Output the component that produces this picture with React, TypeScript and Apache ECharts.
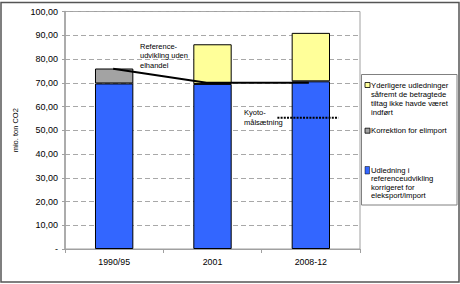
import React, { useEffect, useRef } from "react";
import * as echarts from "echarts";

const categories = ["1990/95", "2001", "2008-12"];
const udledning = [69.7, 69.5, 70.6];
const korrektion: (number | null)[] = [6.3, null, null];
const yderligere: (number | null)[] = [null, 16.7, 20.4];
// reference line (x in category units, 0..3) and Kyoto target
const refX = [0.49, 1.44, 2.48];
const refY = [75.9, 70.0, 70.0];
const kyotoX = [2.16, 2.78];
const kyotoY = [55.3, 55.3];

const nameU = "Udledning i referenceudvikling korrigeret for eleksport/import";
const nameK = "Korrektion for elimport";
const nameY = "Yderligere udledninger såfremt de betragtede tiltag ikke havde været indført";

const FONT = "'Liberation Sans', Arial, sans-serif";
const BLUE = "#3366ff";
const GRAY = "#a3a3a3";
const YELLOW = "#ffff99";

export default function App() {
  const ref = useRef<HTMLDivElement>(null);
  useEffect(() => {
    document.body.style.margin = "0";
    const chart = echarts.init(ref.current!, null, { renderer: "svg" });
    const txt = (x: number, y: number, text: string, size: number, lh: number) => ({
      type: "text",
      x,
      y,
      style: {
        text,
        fontSize: size,
        lineHeight: lh,
        fontFamily: FONT,
        fill: "#000",
        verticalAlign: "top",
        align: "left",
      },
      z: 100,
    });
    chart.setOption({
      animation: false,
      textStyle: { fontFamily: FONT },
      grid: {
        left: 65,
        right: 100,
        top: 11.5,
        bottom: 35,
        show: true,
        borderColor: "#a0a0a0",
        borderWidth: 1,
        backgroundColor: "#fff",
      },
      xAxis: [
        {
          type: "category",
          data: categories,
          axisLine: { lineStyle: { color: "#a0a0a0", width: 1 } },
          axisTick: { show: true, length: 4, lineStyle: { color: "#a0a0a0" } },
          axisLabel: { color: "#000", fontSize: 8.8, margin: 8.5, fontFamily: FONT },
        },
        { type: "value", min: 0, max: 3, show: false },
      ],
      yAxis: {
        type: "value",
        min: 0,
        max: 100,
        interval: 10,
        name: "mio. ton CO2",
        nameLocation: "middle",
        nameGap: 40,
        nameTextStyle: { fontSize: 7.5, color: "#000", fontFamily: FONT },
        axisLine: { show: true, lineStyle: { color: "#a0a0a0", width: 1.5 } },
        axisTick: { show: true, length: 3, lineStyle: { color: "#a0a0a0" } },
        axisLabel: {
          color: "#000",
          fontSize: 9,
          margin: 7,
          fontFamily: FONT,
          formatter: (v: number) => (v === 0 ? "-" : v.toFixed(2).replace(".", ",")),
        },
        splitLine: { show: true, lineStyle: { color: "#a8a8a8", type: [5, 3], width: 1 } },
      },
      series: [
        {
          name: nameU,
          type: "bar",
          stack: "s",
          data: udledning,
          barWidth: "39%",
          itemStyle: { color: BLUE, borderColor: "#000", borderWidth: 1 },
        },
        {
          name: nameK,
          type: "bar",
          stack: "s",
          data: korrektion,
          itemStyle: { color: GRAY, borderColor: "#000", borderWidth: 1 },
        },
        {
          name: nameY,
          type: "bar",
          stack: "s",
          data: yderligere,
          itemStyle: { color: YELLOW, borderColor: "#000", borderWidth: 1 },
        },
        {
          name: "Referenceudvikling uden elhandel",
          type: "line",
          xAxisIndex: 1,
          data: refX.map((x, i) => [x, refY[i]]),
          symbol: "none",
          lineStyle: { color: "#000", width: 2 },
          z: 5,
        },
        {
          name: "Kyoto-målsætning",
          type: "line",
          xAxisIndex: 1,
          data: kyotoX.map((x, i) => [x, kyotoY[i]]),
          symbol: "none",
          lineStyle: { color: "#000", width: 2, type: [2, 1.2] },
          z: 5,
        },
      ],
      graphic: [
        {
          type: "rect",
          shape: { x: 1, y: 2.5, width: 458, height: 279.5 },
          style: { fill: "none", stroke: "#555", lineWidth: 1.5 },
          z: 100,
        },
        {
          type: "rect",
          shape: { x: 361.5, y: 74.5, width: 95.5, height: 130.5 },
          style: { fill: "#fff", stroke: "#808080", lineWidth: 1 },
          z: 90,
        },
        {
          type: "rect",
          shape: { x: 365, y: 82.5, width: 5, height: 5 },
          style: { fill: YELLOW, stroke: "#000", lineWidth: 0.8 },
          z: 100,
        },
        txt(371, 80.5, "Yderligere udledninger\nsåfremt de betragtede\ntiltag ikke havde været\nindført", 7.7, 9),
        {
          type: "rect",
          shape: { x: 365, y: 128.2, width: 5, height: 5 },
          style: { fill: GRAY, stroke: "#000", lineWidth: 0.8 },
          z: 100,
        },
        txt(371, 126.2, "Korrektion for elimport", 7.7, 9),
        {
          type: "rect",
          shape: { x: 365, y: 166.5, width: 4.5, height: 7.5 },
          style: { fill: BLUE, stroke: "#000", lineWidth: 0.5 },
          z: 100,
        },
        txt(371, 165.7, "Udledning i\nreferenceudvikling\nkorrigeret for\neleksport/import", 7.7, 8.6),
        txt(140, 41.3, "Reference-\nudvikling uden\nelhandel", 7.5, 9.5),
        txt(244, 107.5, "Kyoto-\nmålsætning", 7.5, 9.7),
      ],
    });
    return () => chart.dispose();
  }, []);
  return <div ref={ref} style={{ width: 460, height: 284 }} />;
}
